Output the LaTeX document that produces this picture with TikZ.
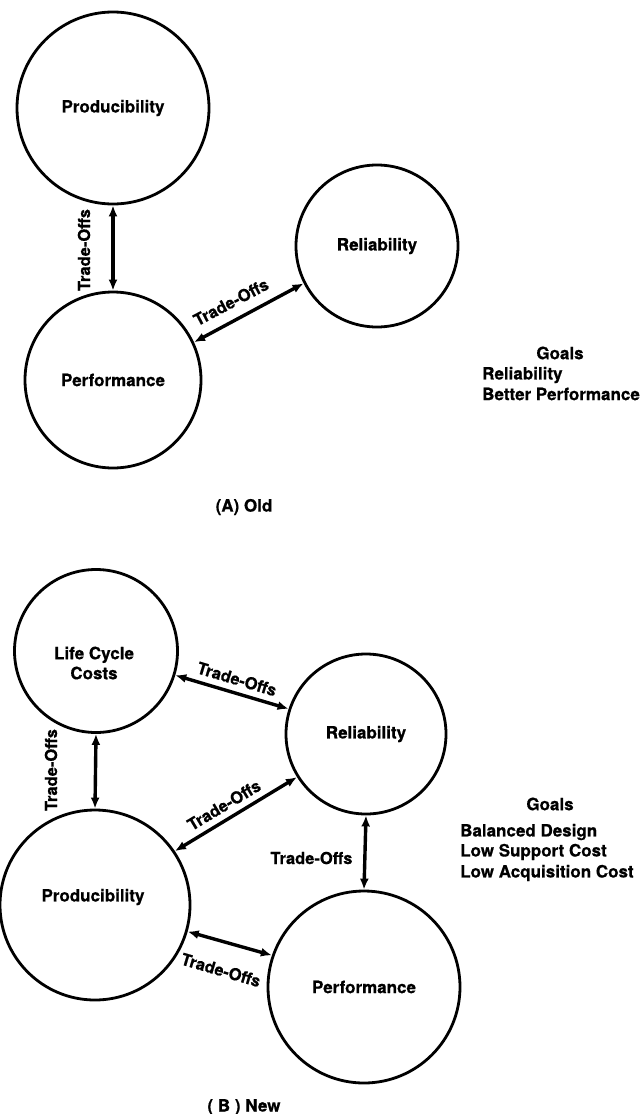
\documentclass[tikz,border=0pt]{standalone}
\usepackage{fontspec}
\setmainfont{TeX Gyre Heros}[BoldFeatures={FakeBold=0.6}]
\usetikzlibrary{arrows.meta}
\begin{document}
\begin{tikzpicture}[x=1pt,y=-1pt,
  every node/.style={font=\fontsize{17}{20}\selectfont\bfseries},
  factor/.style={draw, circle, line width=2.8pt, inner sep=0pt},
  tradeoff/.style={line width=3.4pt, {Latex[length=11pt,width=9pt]}-{Latex[length=11pt,width=9pt]}},
  tolabel/.style={font=\fontsize{16.5}{20}\selectfont\bfseries, inner sep=0pt},
  goal/.style={anchor=west, inner sep=0pt}]
\useasboundingbox (0,0) rectangle (640,1114);

% ---- (A) Old ----
\node[factor, minimum size=192pt] (prodA) at (113,108) {Producibility};
\node[factor, minimum size=176pt] (perfA) at (113,380) {Performance};
\node[factor, minimum size=162pt] (relA) at (377,246) {Reliability};

\draw[tradeoff] (prodA.south) -- (perfA.north);
\draw[tradeoff] (perfA.25.7) -- (relA.207.2);

\node[tolabel, rotate=90] (toA1) at (84,250) {Trade-Offs};
\node[tolabel, rotate=27.8] (toA2) at (231,302) {Trade-Offs};

\node (goalsA) at (560,353) {Goals};
\node[goal] (goalA1) at (482,375) {Reliability};
\node[goal] (goalA2) at (482,394) {Better Performance};

\node (capA) at (244,507) {(A) Old};

% ---- (B) New ----
\node[factor, minimum size=163pt] (lcc) at (96,651) {};
\node[align=center, inner sep=0pt] (lcct) at (94,663) {Life Cycle\\Costs};
\node[factor, minimum size=160pt] (relB) at (366,734) {Reliability};
\node[factor, minimum size=190pt] (prodB) at (95,905) {};
\node[inner sep=0pt] (prodBt) at (93,897) {Producibility};
\node[factor, minimum size=192pt] (perfB) at (364,987) {Performance};

\draw[tradeoff] (lcc.-17.2) -- (relB.162.6);
\draw[tradeoff] (lcc.south) -- (prodB.north);
\draw[tradeoff] (prodB.34) -- (relB.212.3);
\draw[tradeoff] (relB.south) -- (perfB.north);
\draw[tradeoff] (prodB.-16.4) -- (perfB.161.8);

\node[tolabel, rotate=90] (toB1) at (51,770) {Trade-Offs};
\node[tolabel, rotate=-16.7] (toB2) at (237,679) {Trade-Offs};
\node[tolabel, rotate=30.9] (toB3) at (224,805) {Trade-Offs};
\node[tolabel] (toB4) at (311.5,858) {Trade-Offs};
\node[tolabel, rotate=-16.4] (toB5) at (221,970) {Trade-Offs};

\node (goalsB) at (550,804) {Goals};
\node[goal] (goalB1) at (460,832) {Balanced Design};
\node[goal] (goalB2) at (460,852) {Low Support Cost};
\node[goal] (goalB3) at (460,873) {Low Acquisition Cost};

\node (capB) at (244,1107) {( B ) New};
\end{tikzpicture}
\end{document}
